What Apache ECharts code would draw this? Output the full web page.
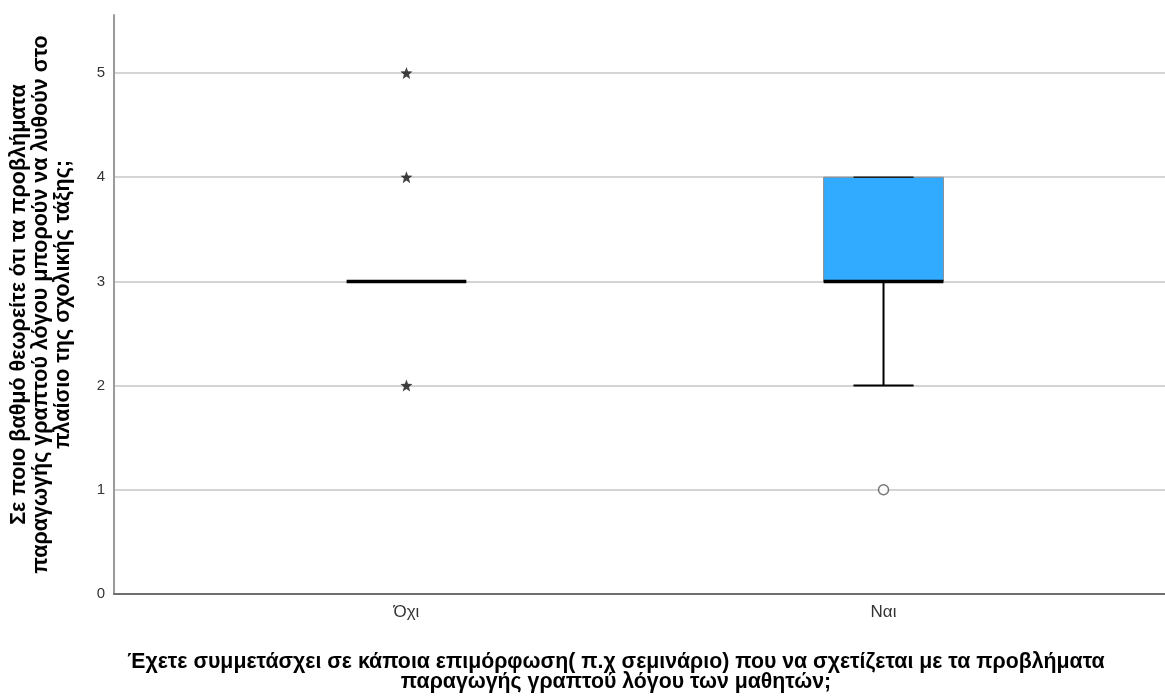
<!DOCTYPE html>
<html>
<head>
<meta charset="utf-8">
<script src="https://cdn.jsdelivr.net/npm/echarts@6/dist/echarts.min.js"></script>
<style>
  html, body { margin: 0; padding: 0; background: #ffffff; }
  #chart { width: 1165px; height: 696px; }
</style>
</head>
<body>
<div id="chart"></div>
<script>
// Groups on the horizontal axis
const categories = ['Όχι', 'Ναι'];
// Box statistics per group: [min, Q1, median, Q3, max]
const boxStats = [
  [3, 3, 3, 3, 3],
  [2, 3, 3, 4, 4]
];
// Extreme values (asterisks): [group index, value]
const extremes = [[0, 5], [0, 4], [0, 2]];
// Outliers (circles): [group index, value]
const outliers = [[1, 1]];
// Value-axis ticks
const yTicks = [0, 1, 2, 3, 4, 5];

const yTitle = 'Σε ποιο βαθμό θεωρείτε ότι τα προβλήματα\nπαραγωγής γραπτού λόγου μπορούν να λυθούν στο\nπλαίσιο της σχολικής τάξης;';
const xTitle = 'Έχετε συμμετάσχει σε κάποια επιμόρφωση( π.χ σεμινάριο) που να σχετίζεται με τα προβλήματα\nπαραγωγής γραπτού λόγου των μαθητών;';

const BOX_W = 0.251;   // box width in axis units
const CAP_W = 0.126;   // whisker cap width in axis units
const FONT = '"Liberation Sans", Arial, sans-serif';

const starPath = 'path://M5,0 L6.3,3.4 L10,3.6 L7.1,5.9 L8.1,9.6 L5,7.5 L1.9,9.6 L2.9,5.9 L0,3.6 L3.7,3.4 Z';

const boxData = boxStats.map((s, i) => [i].concat(s));

function renderBox(params, api) {
  const x = api.value(0);
  const mn = api.value(1), q1 = api.value(2), md = api.value(3), q3 = api.value(4), mx = api.value(5);
  const pL = api.coord([x - BOX_W / 2, q3]);
  const pR = api.coord([x + BOX_W / 2, q1]);
  const cL = api.coord([x - CAP_W / 2, 0])[0];
  const cR = api.coord([x + CAP_W / 2, 0])[0];
  const cx = api.coord([x, 0])[0];
  const yMin = api.coord([x, mn])[1];
  const yMax = api.coord([x, mx])[1];
  const yQ1 = pR[1], yQ3 = pL[1];
  const yMd = api.coord([x, md])[1];
  const children = [];
  if (q3 > q1) {
    children.push({
      type: 'rect',
      shape: { x: pL[0], y: yQ3, width: pR[0] - pL[0], height: yQ1 - yQ3 },
      style: { fill: '#31abff', stroke: '#8a8a8a', lineWidth: 1 }
    });
    if (mn < q1) {
      children.push({ type: 'line', shape: { x1: cx, y1: yQ1, x2: cx, y2: yMin }, style: { stroke: '#000', lineWidth: 2 } });
    }
    if (mx > q3) {
      children.push({ type: 'line', shape: { x1: cx, y1: yQ3, x2: cx, y2: yMax }, style: { stroke: '#000', lineWidth: 2 } });
    }
    // whisker caps
    children.push({ type: 'line', shape: { x1: cL, y1: yMin, x2: cR, y2: yMin }, style: { stroke: '#000', lineWidth: 2 } });
    children.push({ type: 'line', shape: { x1: cL, y1: yMax, x2: cR, y2: yMax }, style: { stroke: '#222', lineWidth: 1.5 } });
  }
  // median
  children.push({
    type: 'line',
    shape: { x1: pL[0], y1: yMd, x2: pR[0], y2: yMd },
    style: { stroke: '#000', lineWidth: 3.5 }
  });
  return { type: 'group', children: children };
}

const chart = echarts.init(document.getElementById('chart'), null, { renderer: 'canvas' });
chart.setOption({
  backgroundColor: '#ffffff',
  animation: false,
  grid: { left: 112, right: 0, top: 15, bottom: 102 },
  xAxis: {
    type: 'value',
    min: -0.613,
    max: 1.590,
    splitLine: { show: false },
    axisTick: { show: false },
    axisLine: { show: true, onZero: false, lineStyle: { color: '#6e6e6e', width: 2 } },
    axisLabel: {
      customValues: [0, 1],
      formatter: v => categories[Math.round(v)],
      color: '#333',
      fontSize: 17,
      fontFamily: FONT,
      margin: 10
    }
  },
  yAxis: {
    type: 'value',
    min: 0,
    max: 5.557,
    interval: 1,
    name: yTitle,
    nameLocation: 'middle',
    nameRotate: 90,
    nameGap: 40,
    nameTextStyle: { fontFamily: FONT, fontSize: 21.5, fontWeight: 'bold', color: '#000', lineHeight: 22 },
    axisLine: { show: true, onZero: false, lineStyle: { color: '#9a9a9a', width: 2 } },
    axisTick: { show: false },
    axisLabel: {
      customValues: yTicks,
      color: '#333',
      fontSize: 15,
      fontFamily: FONT,
      margin: 9
    },
    splitLine: { show: true, showMaxLine: false, lineStyle: { color: '#d4d4d4', width: 2 } }
  },
  graphic: [{
    type: 'text',
    x: 616,
    y: 652,
    style: {
      text: xTitle,
      fontFamily: FONT,
      fontSize: 21.3,
      fontWeight: 'bold',
      fill: '#000',
      align: 'center',
      verticalAlign: 'top',
      lineHeight: 20
    }
  }],
  series: [
    {
      type: 'custom',
      renderItem: renderBox,
      data: boxData,
      encode: { x: 0, y: [1, 2, 3, 4, 5] },
      z: 3
    },
    {
      type: 'scatter',
      data: extremes,
      symbol: starPath,
      symbolSize: 12,
      itemStyle: { color: '#111' },
      z: 4
    },
    {
      type: 'scatter',
      data: outliers,
      symbol: 'circle',
      symbolSize: 10,
      itemStyle: { color: '#fff', borderColor: '#555', borderWidth: 1.5 },
      z: 4
    }
  ]
});
</script>
</body>
</html>
